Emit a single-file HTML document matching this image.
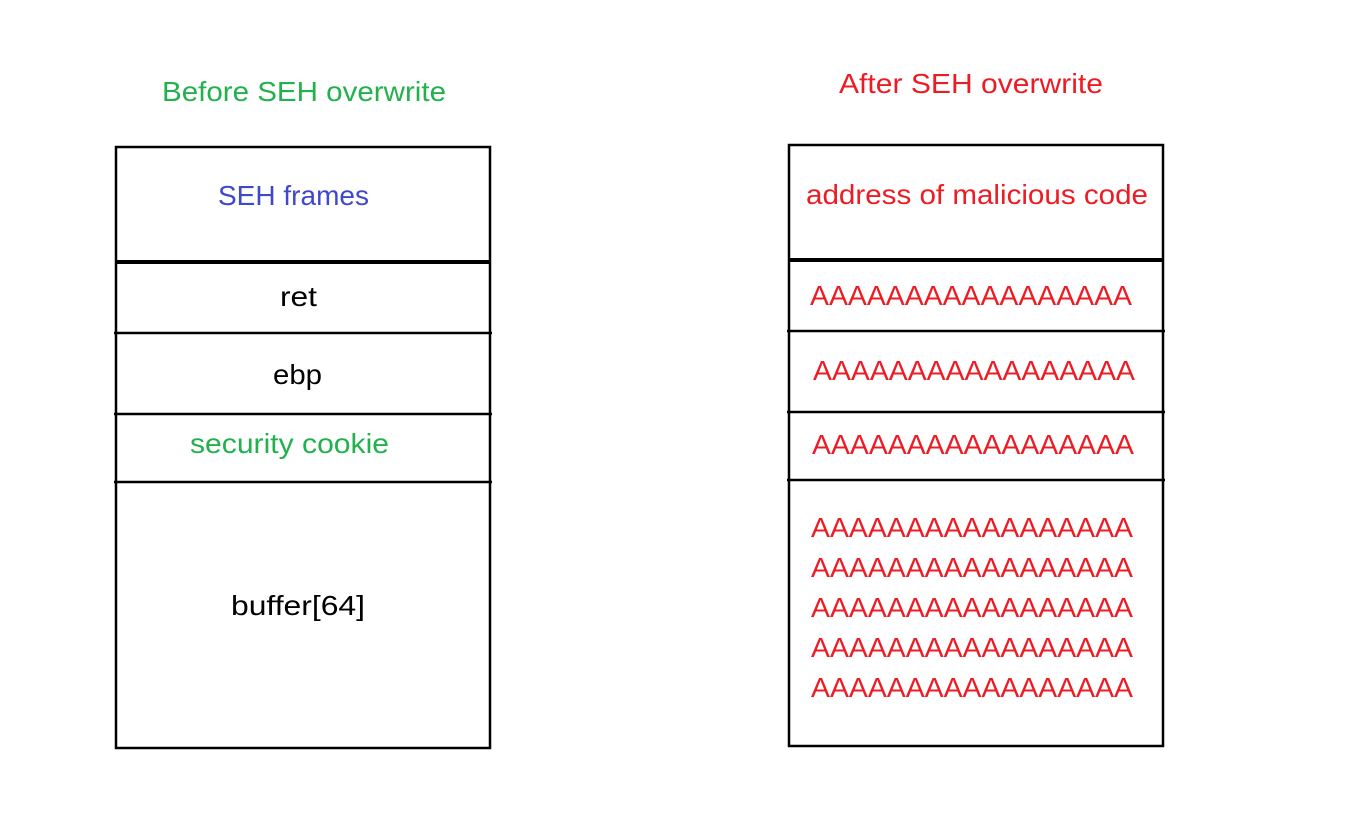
<!DOCTYPE html>
<html><head><style>body{margin:0;background:#fff}svg{display:block}</style></head><body>
<svg width="1346" height="828" xmlns="http://www.w3.org/2000/svg" font-family="Liberation Sans, sans-serif" font-size="28">
<rect width="1346" height="828" fill="#fff"/>
<g stroke="#000" stroke-width="2.5" fill="none">
<rect x="116" y="147" width="374" height="601"/>
<line x1="116" y1="262" x2="490" y2="262" stroke-width="4"/>
<line x1="114" y1="333" x2="492" y2="333"/>
<line x1="114" y1="414" x2="492" y2="414"/>
<line x1="114" y1="482" x2="492" y2="482"/>
<rect x="789" y="145" width="374" height="601"/>
<line x1="789" y1="260" x2="1163" y2="260" stroke-width="4"/>
<line x1="787" y1="331" x2="1165" y2="331"/>
<line x1="787" y1="412" x2="1165" y2="412"/>
<line x1="787" y1="480" x2="1165" y2="480"/>
</g>
<text x="162" y="101" fill="#22b14c" textLength="284" lengthAdjust="spacingAndGlyphs">Before SEH overwrite</text>
<text x="839" y="93" fill="#ed1c24" textLength="264" lengthAdjust="spacingAndGlyphs">After SEH overwrite</text>
<text x="218" y="205" fill="#3f48cc" textLength="151" lengthAdjust="spacingAndGlyphs">SEH frames</text>
<text x="280" y="306" fill="#000" textLength="37" lengthAdjust="spacingAndGlyphs">ret</text>
<text x="273" y="384" fill="#000" textLength="49" lengthAdjust="spacingAndGlyphs">ebp</text>
<text x="190" y="453" fill="#22b14c" textLength="199" lengthAdjust="spacingAndGlyphs">security cookie</text>
<text x="231" y="615" fill="#000" textLength="134" lengthAdjust="spacingAndGlyphs">buffer[64]</text>
<g fill="#ed1c24">
<text x="806" y="204" textLength="342" lengthAdjust="spacingAndGlyphs">address of malicious code</text>
<text x="810" y="305" textLength="322" lengthAdjust="spacingAndGlyphs">AAAAAAAAAAAAAAAAA</text>
<text x="813" y="380" textLength="322" lengthAdjust="spacingAndGlyphs">AAAAAAAAAAAAAAAAA</text>
<text x="812" y="454" textLength="322" lengthAdjust="spacingAndGlyphs">AAAAAAAAAAAAAAAAA</text>
<text x="811" y="537" textLength="322" lengthAdjust="spacingAndGlyphs">AAAAAAAAAAAAAAAAA</text>
<text x="811" y="577" textLength="322" lengthAdjust="spacingAndGlyphs">AAAAAAAAAAAAAAAAA</text>
<text x="811" y="617" textLength="322" lengthAdjust="spacingAndGlyphs">AAAAAAAAAAAAAAAAA</text>
<text x="811" y="657" textLength="322" lengthAdjust="spacingAndGlyphs">AAAAAAAAAAAAAAAAA</text>
<text x="811" y="697" textLength="322" lengthAdjust="spacingAndGlyphs">AAAAAAAAAAAAAAAAA</text>
</g>
</svg>
</body></html>
